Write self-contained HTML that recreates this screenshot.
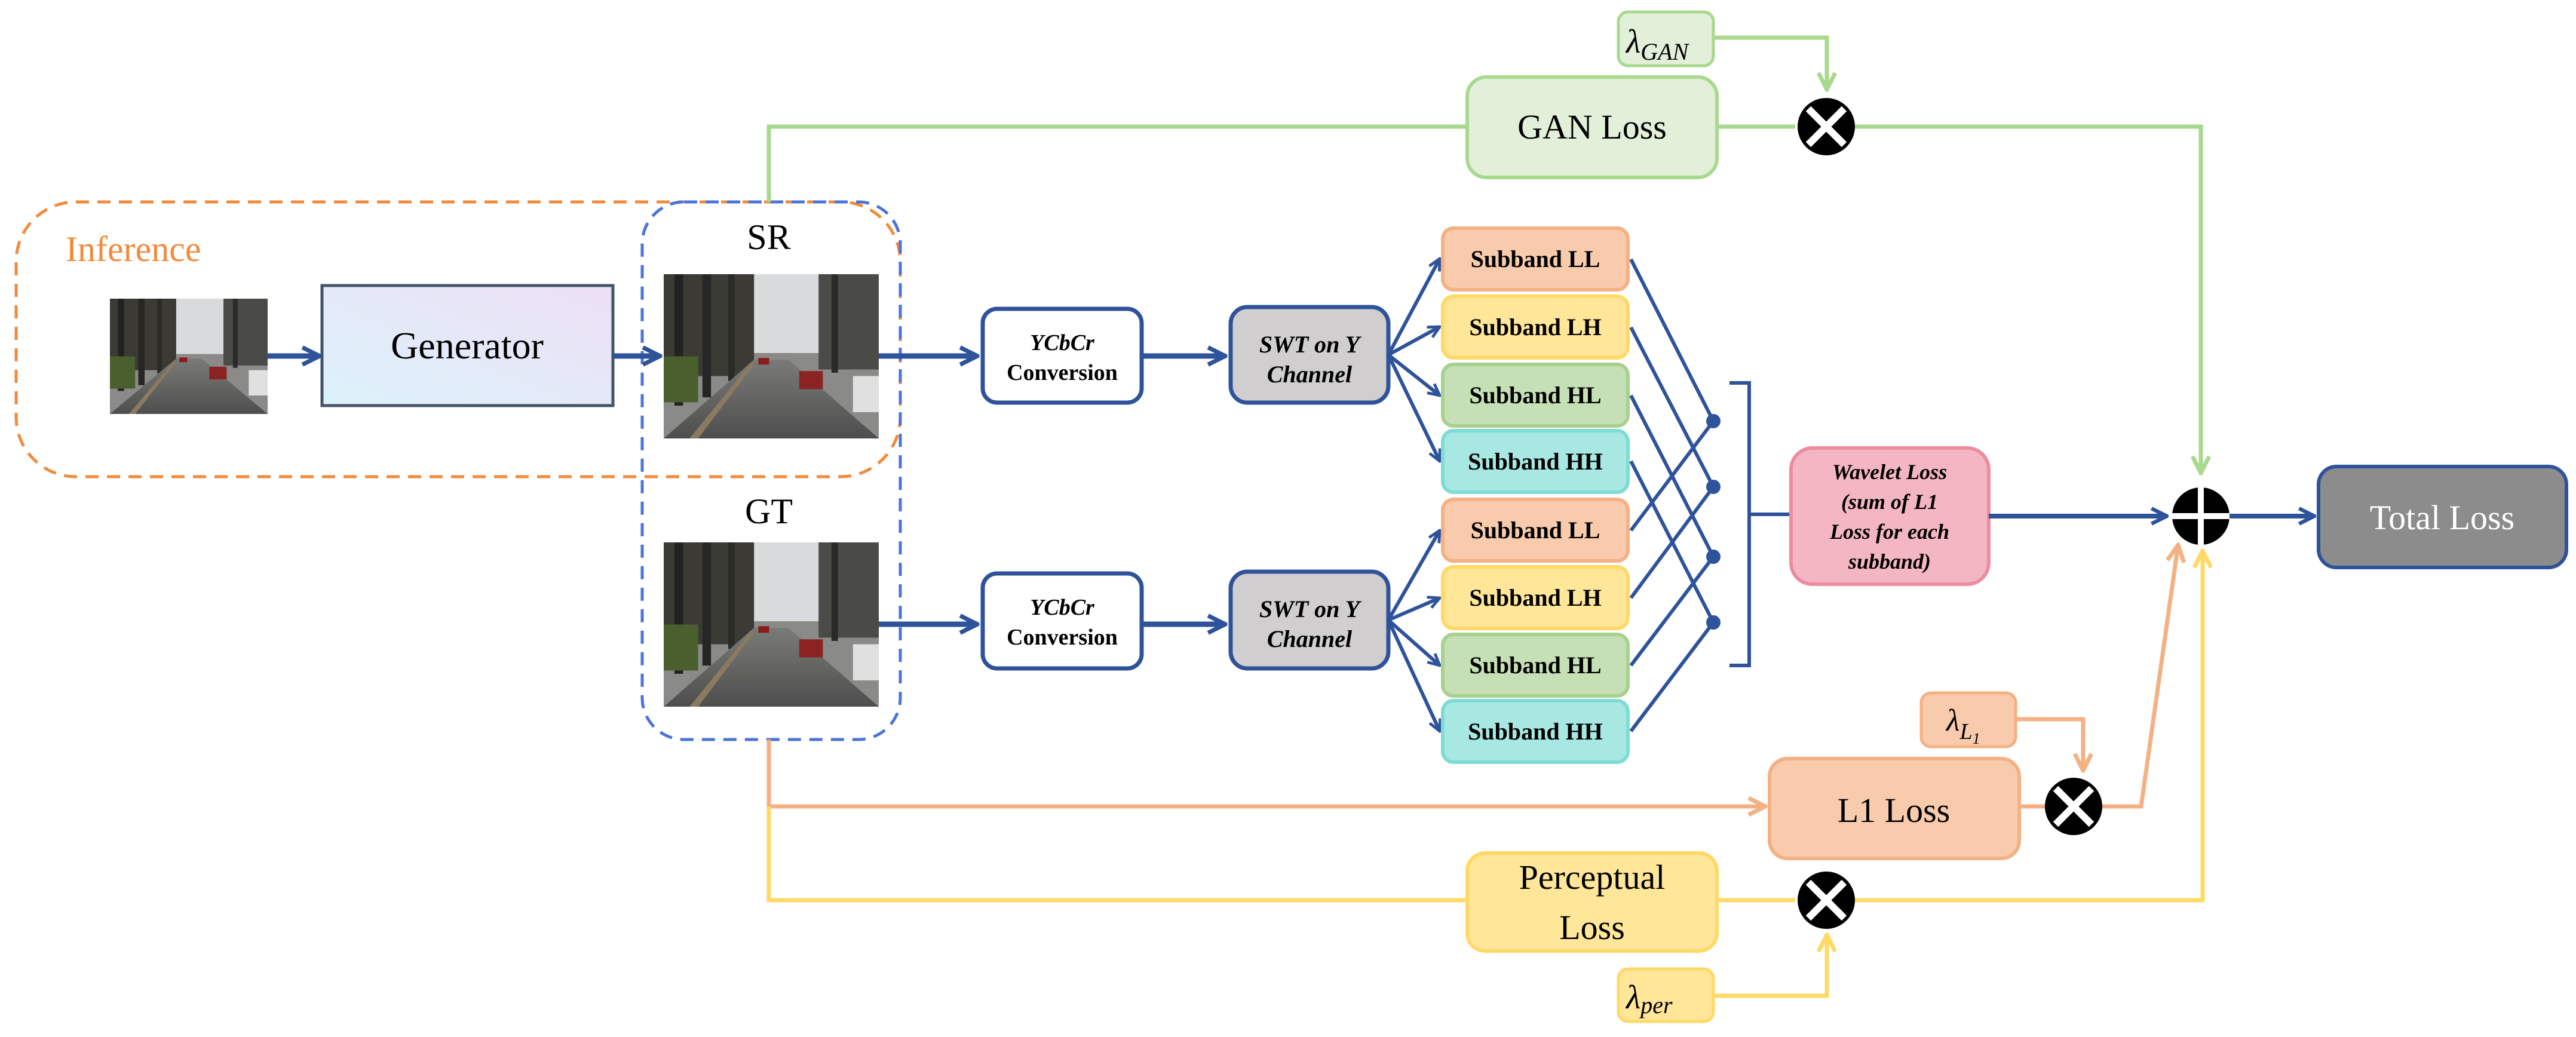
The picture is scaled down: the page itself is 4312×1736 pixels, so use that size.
<!DOCTYPE html>
<html><head><meta charset="utf-8"><style>
html,body{margin:0;padding:0;background:#fff;}
svg{display:block;}
svg text{font-family:"Liberation Serif","DejaVu Serif",serif !important;}
</style></head><body>
<svg width="4312" height="1736" viewBox="0 0 4312 1736" xmlns="http://www.w3.org/2000/svg" font-family="'Liberation Serif', serif">
<defs>
<linearGradient id="gen" x1="0" y1="1" x2="1" y2="0"><stop offset="0" stop-color="#dcf2fb"/><stop offset="1" stop-color="#eddff5"/></linearGradient>
<linearGradient id="road" x1="0" y1="0" x2="0" y2="1"><stop offset="0" stop-color="#7a7a78"/><stop offset="1" stop-color="#4e4e4e"/></linearGradient>
<marker id="ab" viewBox="0 0 10 10" refX="9" refY="5" markerWidth="4" markerHeight="4" orient="auto"><path d="M1,1 L9,5 L1,9" fill="none" stroke="#2f539b" stroke-width="2"/></marker>
<marker id="ag" viewBox="0 0 10 10" refX="9" refY="5" markerWidth="5" markerHeight="5" orient="auto"><path d="M1,1 L9,5 L1,9" fill="none" stroke="#a9d98e" stroke-width="2"/></marker>
<marker id="ao" viewBox="0 0 10 10" refX="9" refY="5" markerWidth="5" markerHeight="5" orient="auto"><path d="M1,1 L9,5 L1,9" fill="none" stroke="#f4b183" stroke-width="2"/></marker>
<marker id="ay" viewBox="0 0 10 10" refX="9" refY="5" markerWidth="5" markerHeight="5" orient="auto"><path d="M1,1 L9,5 L1,9" fill="none" stroke="#ffd966" stroke-width="2"/></marker>
<g id="street">
<rect x="0" y="0" width="100" height="100" fill="#8a8a88"/>
<rect x="0" y="0" width="100" height="48" fill="#d8dadc"/>
<rect x="0" y="0" width="42" height="62" fill="#3b3a35"/>
<rect x="5" y="0" width="4" height="80" fill="#222"/>
<rect x="18" y="0" width="4" height="75" fill="#262624"/>
<rect x="30" y="0" width="3" height="65" fill="#2a2a28"/>
<rect x="72" y="0" width="28" height="58" fill="#4a4a46"/>
<rect x="78" y="0" width="3" height="60" fill="#2a2a28"/>
<rect x="0" y="50" width="16" height="28" fill="#4b5e2e"/>
<polygon points="0,100 42,52 58,52 100,100" fill="url(#road)"/>
<polygon points="12,100 40,55 42,55 16,100" fill="#8a7a60"/>
<rect x="44" y="51" width="5" height="4" fill="#8b1a1a"/>
<rect x="63" y="59" width="11" height="11" fill="#8b2323"/>
<rect x="88" y="62" width="12" height="22" fill="#e0e0e0"/>
</g>
</defs>

<!-- dashed regions -->
<rect x="27" y="338" width="1480" height="460" rx="100" fill="none" stroke="#f28a3c" stroke-width="5" stroke-dasharray="22,14"/>
<rect x="1075" y="338" width="432" height="900" rx="70" fill="none" stroke="#4a74d8" stroke-width="5" stroke-dasharray="22,14"/>
<text x="110" y="437" font-size="60" fill="#f28a3c">Inference</text>

<!-- images -->
<use href="#street" transform="translate(184,500) scale(2.64,1.93)"/>
<use href="#street" transform="translate(1111,459) scale(3.6,2.75)"/>
<use href="#street" transform="translate(1111,908) scale(3.6,2.75)"/>
<text x="1287" y="417" font-size="60" text-anchor="middle">SR</text>
<text x="1287" y="876" font-size="60" text-anchor="middle">GT</text>

<!-- generator -->
<rect x="539" y="478" width="487" height="201" fill="url(#gen)" stroke="#44546a" stroke-width="5"/>
<text x="782" y="600" font-size="64" text-anchor="middle">Generator</text>
<g stroke="#2f539b" stroke-width="9" fill="none">
<line x1="448" y1="596" x2="535" y2="596" marker-end="url(#ab)"/>
<line x1="1026" y1="596" x2="1105" y2="596" marker-end="url(#ab)"/>
<line x1="1471" y1="596" x2="1636" y2="596" marker-end="url(#ab)"/>
<line x1="1471" y1="1045" x2="1636" y2="1045" marker-end="url(#ab)"/>
<line x1="1911" y1="596" x2="2051" y2="596" marker-end="url(#ab)"/>
<line x1="1911" y1="1045" x2="2051" y2="1045" marker-end="url(#ab)"/>
</g>

<!-- YCbCr / SWT -->
<g stroke="#2f539b" stroke-width="7">
<rect x="1645" y="517" width="266" height="157" rx="24" fill="#fff"/>
<rect x="1645" y="960" width="266" height="159" rx="24" fill="#fff"/>
<rect x="2060" y="514" width="264" height="160" rx="28" fill="#d0cece"/>
<rect x="2060" y="957" width="264" height="162" rx="28" fill="#d0cece"/>
</g>
<g font-weight="bold" font-size="38" text-anchor="middle">
<text x="1778" y="586" font-style="italic">YCbCr</text><text x="1778" y="636">Conversion</text>
<text x="1778" y="1029" font-style="italic">YCbCr</text><text x="1778" y="1079">Conversion</text>
<text x="2192" y="590" font-style="italic" font-size="40">SWT on Y</text><text x="2192" y="640" font-style="italic" font-size="40">Channel</text>
<text x="2192" y="1033" font-style="italic" font-size="40">SWT on Y</text><text x="2192" y="1083" font-style="italic" font-size="40">Channel</text>
</g>

<!-- SWT arrows -->
<g stroke="#2f539b" stroke-width="6" fill="none">
<line x1="2324" y1="594" x2="2410" y2="433" marker-end="url(#ab)"/>
<line x1="2324" y1="594" x2="2410" y2="547" marker-end="url(#ab)"/>
<line x1="2324" y1="594" x2="2410" y2="662" marker-end="url(#ab)"/>
<line x1="2324" y1="594" x2="2410" y2="772" marker-end="url(#ab)"/>
<line x1="2324" y1="1038" x2="2410" y2="888" marker-end="url(#ab)"/>
<line x1="2324" y1="1038" x2="2410" y2="1001" marker-end="url(#ab)"/>
<line x1="2324" y1="1038" x2="2410" y2="1114" marker-end="url(#ab)"/>
<line x1="2324" y1="1038" x2="2410" y2="1224" marker-end="url(#ab)"/>
</g>

<!-- subbands -->
<g stroke-width="6">
<rect x="2415" y="382" width="310" height="103" rx="18" fill="#f8cbad" stroke="#f4b183"/>
<rect x="2415" y="496" width="310" height="103" rx="18" fill="#ffe699" stroke="#ffd966"/>
<rect x="2415" y="610" width="310" height="103" rx="18" fill="#c5e0b4" stroke="#a9d18e"/>
<rect x="2415" y="721" width="310" height="103" rx="18" fill="#a8e8e2" stroke="#7fdcd4"/>
<rect x="2415" y="836" width="310" height="103" rx="18" fill="#f8cbad" stroke="#f4b183"/>
<rect x="2415" y="949" width="310" height="103" rx="18" fill="#ffe699" stroke="#ffd966"/>
<rect x="2415" y="1062" width="310" height="103" rx="18" fill="#c5e0b4" stroke="#a9d18e"/>
<rect x="2415" y="1173" width="310" height="103" rx="18" fill="#a8e8e2" stroke="#7fdcd4"/>
</g>
<g font-weight="bold" font-size="40" text-anchor="middle">
<text x="2570" y="447">Subband LL</text>
<text x="2570" y="561">Subband LH</text>
<text x="2570" y="675">Subband HL</text>
<text x="2570" y="786">Subband HH</text>
<text x="2570" y="901">Subband LL</text>
<text x="2570" y="1014">Subband LH</text>
<text x="2570" y="1127">Subband HL</text>
<text x="2570" y="1238">Subband HH</text>
</g>

<!-- cross lines -->
<g stroke="#2f539b" stroke-width="6" fill="none">
<line x1="2730" y1="434" x2="2868" y2="705"/>
<line x1="2730" y1="548" x2="2868" y2="815"/>
<line x1="2730" y1="662" x2="2868" y2="932"/>
<line x1="2730" y1="772" x2="2868" y2="1042"/>
<line x1="2730" y1="888" x2="2868" y2="705"/>
<line x1="2730" y1="1001" x2="2868" y2="815"/>
<line x1="2730" y1="1114" x2="2868" y2="932"/>
<line x1="2730" y1="1224" x2="2868" y2="1042"/>
<path d="M2895,641 H2928 V1114 H2895 M2928,861 H2998"/>
</g>
<g fill="#2f539b">
<circle cx="2868" cy="705" r="12"/><circle cx="2868" cy="815" r="12"/><circle cx="2868" cy="932" r="12"/><circle cx="2868" cy="1042" r="12"/>
</g>

<!-- wavelet loss -->
<rect x="2998" y="750" width="331" height="228" rx="36" fill="#f4b6c2" stroke="#ec8d9f" stroke-width="6"/>
<g font-weight="bold" font-style="italic" font-size="36" text-anchor="middle">
<text x="3163" y="802">Wavelet Loss</text>
<text x="3163" y="852">(sum of  L1</text>
<text x="3163" y="902">Loss for each</text>
<text x="3163" y="952">subband)</text>
</g>
<line x1="3329" y1="864" x2="3627" y2="864" stroke="#2f539b" stroke-width="8" marker-end="url(#ab)"/>
<line x1="3730" y1="864" x2="3874" y2="864" stroke="#2f539b" stroke-width="8" marker-end="url(#ab)"/>

<!-- total loss -->
<rect x="3881" y="781" width="415" height="169" rx="30" fill="#8c8c8c" stroke="#2f539b" stroke-width="6"/>
<text x="4088" y="886" font-size="58" fill="#fff" text-anchor="middle">Total Loss</text>

<!-- green GAN -->
<g stroke="#a9d98e" stroke-width="7" fill="none">
<path d="M1287,338 V212 H2456"/>
<line x1="2874" y1="212" x2="3005" y2="212"/>
<path d="M3100,212 H3684 V792" marker-end="url(#ag)"/>
<path d="M2868,63 H3058 V150" marker-end="url(#ag)"/>
</g>
<rect x="2456" y="129" width="418" height="168" rx="32" fill="#e2f0d9" stroke="#a9d98e" stroke-width="6"/>
<text x="2665" y="232" font-size="58" text-anchor="middle">GAN Loss</text>
<rect x="2709" y="20" width="159" height="90" rx="16" fill="#e2f0d9" stroke="#a9d98e" stroke-width="5"/>
<text x="2722" y="88" font-size="56" font-style="italic">λ<tspan font-size="40" dy="12">GAN</tspan></text>

<!-- orange L1 -->
<g stroke="#f4b183" stroke-width="7" fill="none">
<path d="M1287,1238 V1350 H2955" marker-end="url(#ao)"/>
<line x1="3380" y1="1350" x2="3425" y2="1350"/>
<path d="M3517,1350 H3584 L3646,912" marker-end="url(#ao)"/>
<path d="M3374,1204 H3487 V1290" marker-end="url(#ao)"/>
</g>
<rect x="2962" y="1270" width="418" height="167" rx="30" fill="#f8cbad" stroke="#f4b183" stroke-width="6"/>
<text x="3170" y="1376" font-size="58" text-anchor="middle">L1 Loss</text>
<rect x="3216" y="1160" width="158" height="90" rx="16" fill="#f8cbad" stroke="#f4b183" stroke-width="5"/>
<text x="3258" y="1223" font-size="52" font-style="italic">λ<tspan font-size="38" dy="14">L</tspan><tspan font-size="26" dy="8">1</tspan></text>

<!-- yellow perceptual -->
<g stroke="#ffd966" stroke-width="7" fill="none">
<path d="M1287,1350 V1507 H2456"/>
<line x1="2874" y1="1507" x2="3005" y2="1507"/>
<path d="M3100,1507 H3687 V922" marker-end="url(#ay)"/>
<path d="M2868,1667 H3058 V1565" marker-end="url(#ay)"/>
</g>
<rect x="2456" y="1428" width="418" height="164" rx="30" fill="#ffe699" stroke="#ffd966" stroke-width="6"/>
<text x="2665" y="1488" font-size="58" text-anchor="middle">Perceptual</text>
<text x="2665" y="1572" font-size="58" text-anchor="middle">Loss</text>
<rect x="2709" y="1622" width="159" height="88" rx="16" fill="#ffe699" stroke="#ffd966" stroke-width="5"/>
<text x="2722" y="1688" font-size="56" font-style="italic">λ<tspan font-size="40" dy="8">per</tspan></text>

<!-- operators -->
<g>
<circle cx="3057" cy="212" r="48" fill="#000"/>
<path d="M3027,182 L3087,242 M3087,182 L3027,242" stroke="#fff" stroke-width="12"/>
<circle cx="3057" cy="1507" r="48" fill="#000"/>
<path d="M3027,1477 L3087,1537 M3087,1477 L3027,1537" stroke="#fff" stroke-width="12"/>
<circle cx="3471" cy="1350" r="48" fill="#000"/>
<path d="M3441,1320 L3501,1380 M3501,1320 L3441,1380" stroke="#fff" stroke-width="12"/>
<circle cx="3684" cy="864" r="48" fill="#000"/>
<path d="M3684,816 V912 M3636,864 H3732" stroke="#fff" stroke-width="10"/>
</g>
</svg>
</body></html>
